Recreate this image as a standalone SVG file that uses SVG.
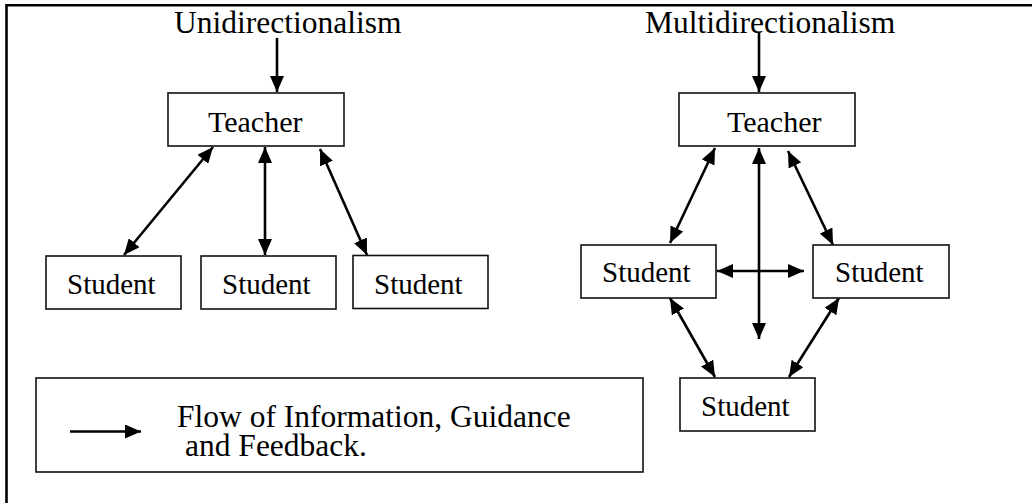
<svg xmlns="http://www.w3.org/2000/svg" width="1032" height="503" viewBox="0 0 1032 503">
  <style>
    text { font-family: "Liberation Serif", "DejaVu Serif", serif; fill: #000; }
    .hdr { font-size: 31.5px; }
    .tch { font-size: 30px; }
    .stu { font-size: 29px; }
    .leg { font-size: 31.5px; }
    .box { fill: #fff; stroke: #111; stroke-width: 1.6; }
    .con { fill: none; stroke: #000; stroke-width: 2.6; }
    .frame { fill: none; stroke: #000; stroke-width: 2.6; }
  </style>
  <defs>
    <marker id="ah" markerUnits="userSpaceOnUse" markerWidth="16" markerHeight="14" refX="16" refY="7" orient="auto-start-reverse" viewBox="0 0 16 14">
      <path d="M0,0 L16,7 L0,14 z" fill="#000"/>
    </marker>
  </defs>
  <rect width="1032" height="503" fill="#fff"/>
  <path class="frame" d="M6.5,503 V5.3 H1032"/>

  <text class="hdr" x="174" y="33">Unidirectionalism</text>
  <text class="hdr" x="645" y="33">Multidirectionalism</text>

  <g id="connectors">
    <line class="con" x1="277" y1="38" x2="277" y2="92" marker-end="url(#ah)"/>
    <line class="con" x1="124" y1="255" x2="213" y2="147" marker-start="url(#ah)" marker-end="url(#ah)"/>
    <line class="con" x1="265" y1="255" x2="265" y2="147" marker-start="url(#ah)" marker-end="url(#ah)"/>
    <line class="con" x1="367" y1="255" x2="320" y2="149" marker-start="url(#ah)" marker-end="url(#ah)"/>

    <line class="con" x1="759" y1="32" x2="759" y2="92" marker-end="url(#ah)"/>
    <line class="con" x1="670" y1="243" x2="715" y2="148" marker-start="url(#ah)" marker-end="url(#ah)"/>
    <line class="con" x1="833" y1="245" x2="788" y2="151" marker-start="url(#ah)" marker-end="url(#ah)"/>
    <line class="con" x1="759" y1="148" x2="759" y2="339" marker-start="url(#ah)" marker-end="url(#ah)"/>
    <line class="con" x1="717" y1="271" x2="804" y2="271" marker-start="url(#ah)" marker-end="url(#ah)"/>
    <line class="con" x1="670" y1="298" x2="715" y2="377" marker-start="url(#ah)" marker-end="url(#ah)"/>
    <line class="con" x1="839" y1="298" x2="789" y2="377" marker-start="url(#ah)" marker-end="url(#ah)"/>
  </g>

  <g id="teacher-uni">
    <rect class="box" x="168" y="93" width="176" height="53"/>
    <text class="tch" x="208" y="132">Teacher</text>
  </g>
  <g id="student-uni-1">
    <rect class="box" x="46" y="256" width="135" height="53"/>
    <text class="stu" x="67" y="294">Student</text>
  </g>
  <g id="student-uni-2">
    <rect class="box" x="201" y="256" width="135" height="53"/>
    <text class="stu" x="222" y="294">Student</text>
  </g>
  <g id="student-uni-3">
    <rect class="box" x="353" y="255.5" width="135" height="53"/>
    <text class="stu" x="374" y="294">Student</text>
  </g>

  <g id="teacher-multi">
    <rect class="box" x="679" y="93" width="176" height="53"/>
    <text class="tch" x="727" y="132">Teacher</text>
  </g>
  <g id="student-multi-left">
    <rect class="box" x="581" y="245" width="135" height="53"/>
    <text class="stu" x="602" y="282">Student</text>
  </g>
  <g id="student-multi-right">
    <rect class="box" x="813" y="245" width="136" height="53"/>
    <text class="stu" x="835" y="282">Student</text>
  </g>
  <g id="student-multi-bottom">
    <rect class="box" x="680" y="378" width="135" height="53"/>
    <text class="stu" x="701" y="416">Student</text>
  </g>

  <g id="legend">
    <rect class="box" x="36" y="378" width="607" height="94"/>
    <line class="con" x1="70" y1="431.5" x2="141" y2="431.5" marker-end="url(#ah)"/>
    <text class="leg" x="177" y="427">Flow of Information, Guidance</text>
    <text class="leg" x="185" y="456">and Feedback.</text>
  </g>
</svg>
